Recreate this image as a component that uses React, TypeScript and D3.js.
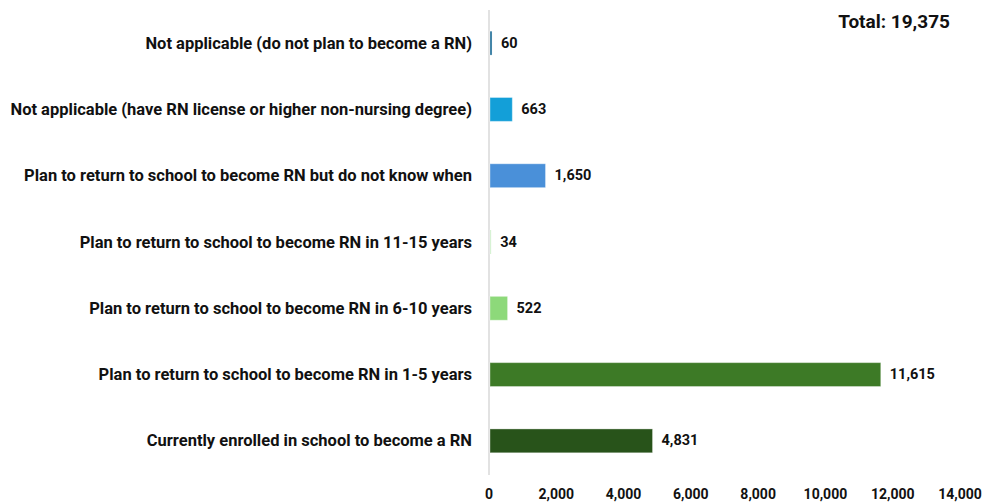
import React from "react";
import * as d3 from "d3";

const categories = [
  "Not applicable (do not plan to become a RN)",
  "Not applicable (have RN license or higher non-nursing degree)",
  "Plan to return to school to become RN but do not know when",
  "Plan to return to school to become RN in 11-15 years",
  "Plan to return to school to become RN in 6-10 years",
  "Plan to return to school to become RN in 1-5 years",
  "Currently enrolled in school to become a RN",
];
const values = [60, 663, 1650, 34, 522, 11615, 4831];
const colors = ["#1d6d97", "#139fd8", "#4a90d9", "#c9efc4", "#8dd97a", "#3d7a26", "#28531a"];
const xTicks = [0, 2000, 4000, 6000, 8000, 10000, 12000, 14000];
const totalLabel = "Total: 19,375";

const W = 985;
const H = 503;
const FONT = "Roboto, 'Liberation Sans', Arial, sans-serif";

export default function App() {
  const x = d3.scaleLinear().domain([0, 14000]).range([489, 960]);
  const y = d3.scaleBand<string>().domain(categories).range([10, 474]).paddingInner(0.64).paddingOuter(0.32);
  const fmt = d3.format(",");
  return (
    <svg width={W} height={H} style={{ position: "absolute", left: 0, top: 0, background: "#fff" }}>
      <line x1={x(0)} x2={x(0)} y1={10} y2={475} stroke="#d9d9d9" strokeWidth={1.5} />
      {categories.map((c, i) => {
        const yc = (y(c) as number) + y.bandwidth() / 2;
        return (
          <g key={c}>
            <rect
              x={x(0) + 1}
              y={y(c)}
              width={Math.max(x(values[i]) - x(0), 1)}
              height={y.bandwidth()}
              fill={colors[i]}
              stroke="rgba(255,255,255,0.35)"
              strokeWidth={1}
            />
            <text x={472} y={yc} textAnchor="end" dominantBaseline="central" fontFamily={FONT} fontWeight="bold" fontSize={16.5} fill="#111">
              {c}
            </text>
            <text x={x(values[i]) + 10} y={yc} dominantBaseline="central" fontFamily={FONT} fontWeight="bold" fontSize={14.5} fill="#111">
              {fmt(values[i])}
            </text>
          </g>
        );
      })}
      {xTicks.map((t) => (
        <text key={t} x={x(t)} y={494} textAnchor="middle" dominantBaseline="central" fontFamily={FONT} fontWeight="bold" fontSize={14} fill="#111">
          {fmt(t)}
        </text>
      ))}
      <text x={950} y={21} textAnchor="end" dominantBaseline="central" fontFamily={FONT} fontWeight="bold" fontSize={19} fill="#111">
        {totalLabel}
      </text>
    </svg>
  );
}
